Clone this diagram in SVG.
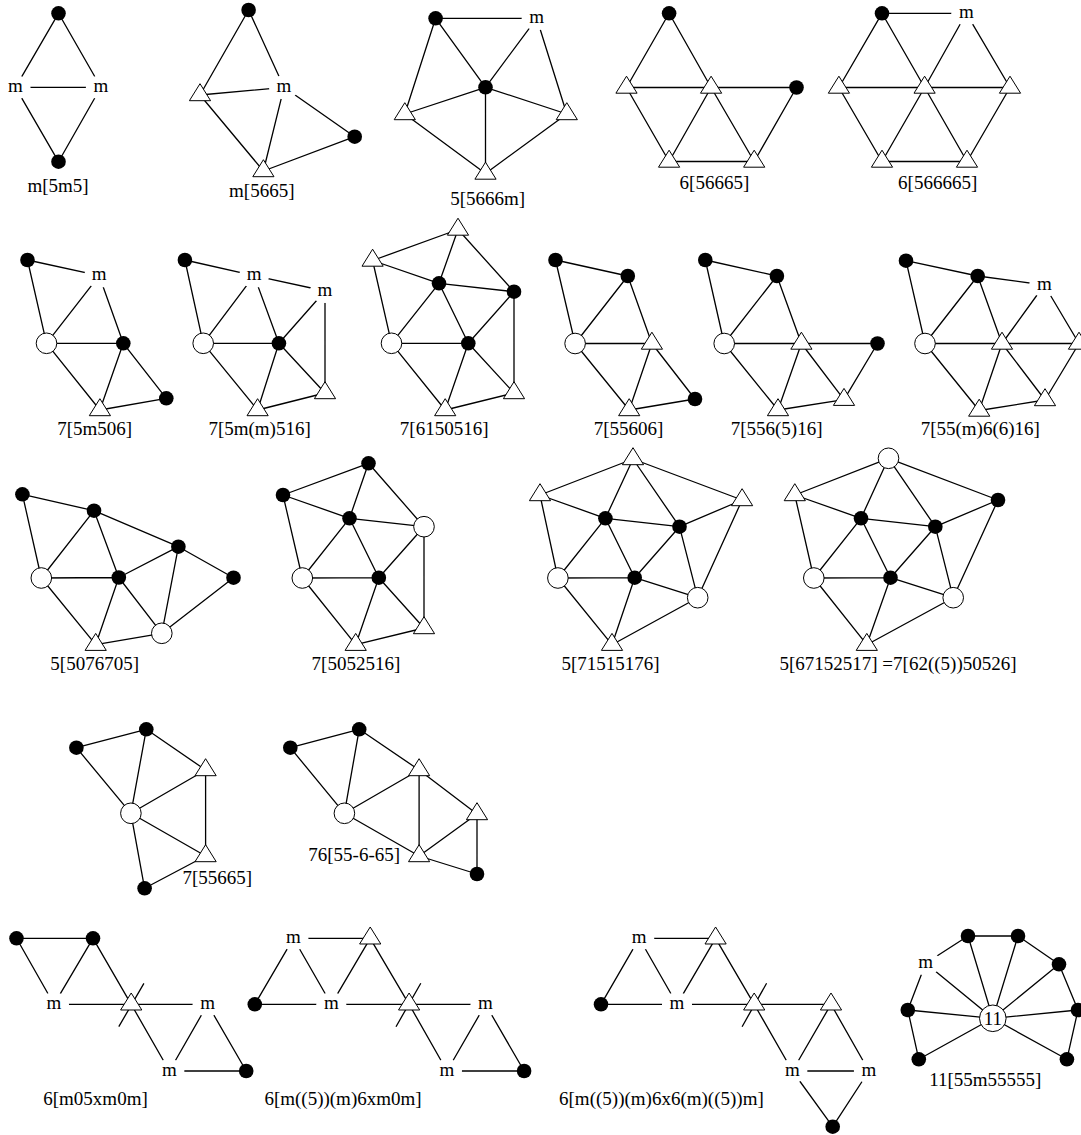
<svg xmlns="http://www.w3.org/2000/svg" xmlns:xlink="http://www.w3.org/1999/xlink" width="1081" height="1135" viewBox="0 0 1081 1135">
<style>
.e path{stroke:#000;stroke-width:1.3;fill:none}
text{font-family:"Liberation Serif","Times New Roman",serif;font-size:19px;fill:#000;text-anchor:middle}
</style>
<defs>
<circle id="fc" r="7.3" fill="#000"/>
<circle id="oc" r="10.3" fill="#fff" stroke="#000" stroke-width="1"/>
<polygon id="tri" points="0,-11.3 10.6,5.7 -10.6,5.7" fill="#fff" stroke="#000" stroke-width="1"/>
<ellipse id="mk" rx="15" ry="12" fill="#fff"/>
</defs>
<rect width="1081" height="1135" fill="#fff"/>
<g id="connectors" class="e">
<!-- f1 -->
<path d="M58.5 13.3L15.5 87.3M58.5 13.3L100.9 87.3M15.5 87.3L100.9 87.3M15.5 87.3L58.5 161.7M100.9 87.3L58.5 161.7"/>
<!-- f2 -->
<path d="M248.6 10L200 95M248.6 10L284 87.3M200 95L284 87.3M200 95L263.4 171M284 87.3L263.4 171M284 87.3L354.7 136.7M263.4 171L354.7 136.7"/>
<!-- f3 -->
<path d="M435.6 18.3L536.7 18.3M435.6 18.3L485.5 87.3M435.6 18.3L404.8 114M536.7 18.3L485.5 87.3M536.7 18.3L566.8 114M485.5 87.3L404.8 114M485.5 87.3L485.5 173.5M485.5 87.3L566.8 114M404.8 114L485.5 173.5M485.5 173.5L566.8 114"/>
<!-- f4 -->
<path d="M669.1 13.3L626.5 87.5M669.1 13.3L711.1 87.5M626.5 87.5L711.1 87.5M711.1 87.5L796.5 87.5M626.5 87.5L669.1 161.5M711.1 87.5L669.1 161.5M711.1 87.5L754.2 161.5M669.1 161.5L754.2 161.5M754.2 161.5L796.5 87.5"/>
<!-- f5 -->
<path d="M882 13.3L966.3 13.3M882 13.3L838.9 87.5M882 13.3L924.6 87.5M966.3 13.3L924.6 87.5M966.3 13.3L1010 87.5M838.9 87.5L924.6 87.5M924.6 87.5L1010 87.5M838.9 87.5L882 161.5M924.6 87.5L882 161.5M924.6 87.5L967 161.5M1010 87.5L967 161.5M882 161.5L967 161.5"/>
<!-- f6 -->
<path d="M27.5 260L99.2 275.7M27.5 260L46.5 343.3M99.2 275.7L46.5 343.3M99.2 275.7L123.3 343.3M46.5 343.3L123.3 343.3M46.5 343.3L99.9 410M123.3 343.3L99.9 410M123.3 343.3L166.3 398.3M99.9 410L166.3 398.3"/>
<!-- f7 -->
<path d="M184.9 260L254.1 275.7M184.9 260L203.2 343.3M254.1 275.7L325 291M254.1 275.7L203.2 343.3M254.1 275.7L278.9 343.3M325 291L278.9 343.3M325 291L325 393M203.2 343.3L278.9 343.3M203.2 343.3L257.6 410M278.9 343.3L257.6 410M278.9 343.3L325 393M257.6 410L325 393"/>
<!-- f8 -->
<path d="M458 229.5L372.6 260.5M458 229.5L439 283.3M458 229.5L514 291.7M372.6 260.5L439 283.3M372.6 260.5L391.5 343.3M439 283.3L514 291.7M439 283.3L391.5 343.3M439 283.3L468.3 343.3M514 291.7L468.3 343.3M514 291.7L514 393M391.5 343.3L468.3 343.3M391.5 343.3L445.2 410M468.3 343.3L445.2 410M468.3 343.3L514 393M445.2 410L514 393"/>
<!-- f9 -->
<path d="M555.5 260L627.8 276M555.5 260L575.1 343.5M627.8 276L575.1 343.5M627.8 276L651.9 343.5M575.1 343.5L651.9 343.5M575.1 343.5L629.2 410M651.9 343.5L629.2 410M651.9 343.5L695 399M629.2 410L695 399"/>
<!-- f10 -->
<path d="M705.3 260L776.9 276M705.3 260L724.2 343.5M776.9 276L724.2 343.5M776.9 276L801.4 343.5M724.2 343.5L801.4 343.5M801.4 343.5L877.5 343.5M724.2 343.5L778 410M801.4 343.5L778 410M801.4 343.5L844 399.7M778 410L844 399.7M844 399.7L877.5 343.5"/>
<!-- f11 -->
<path d="M906 260.7L977.7 276M906 260.7L925 343.5M977.7 276L1044.3 285M977.7 276L925 343.5M977.7 276L1002 343.5M1044.3 285L1002 343.5M1044.3 285L1079 343.5M925 343.5L1002 343.5M1002 343.5L1079 343.5M925 343.5L979.2 410.5M1002 343.5L979.2 410.5M1002 343.5L1045 400M979.2 410.5L1045 400M1045 400L1079 343.5"/>
<!-- f12 -->
<path d="M22.4 494.3L94 510.7M22.4 494.3L41.3 578M94 510.7L178.4 546.7M94 510.7L41.3 578M94 510.7L118.8 577.5M178.4 546.7L118.8 577.5M178.4 546.7L233.5 577.7M178.4 546.7L161.8 633.3M41.3 578L118.8 577.5M41.3 578L95.7 644.7M118.8 577.5L95.7 644.7M118.8 577.5L161.8 633.3M95.7 644.7L161.8 633.3M161.8 633.3L233.5 577.7"/>
<!-- f13 -->
<path d="M368.5 463.3L283 495M368.5 463.3L349.5 518.3M368.5 463.3L424 526.7M283 495L349.5 518.3M283 495L302.3 578M349.5 518.3L424 526.7M349.5 518.3L302.3 578M349.5 518.3L378.8 577.7M424 526.7L378.8 577.7M424 526.7L424 628M302.3 578L378.8 577.7M302.3 578L355.7 644.7M378.8 577.7L355.7 644.7M378.8 577.7L424 628M355.7 644.7L424 628"/>
<!-- f14 -->
<path d="M633 459L540 495M633 459L605.4 518.3M633 459L679.5 526.7M633 459L742.1 500M540 495L605.4 518.3M540 495L557.9 578M605.4 518.3L679.5 526.7M605.4 518.3L557.9 578M605.4 518.3L634.7 577.7M679.5 526.7L742.1 500M679.5 526.7L634.7 577.7M679.5 526.7L697.7 597.7M742.1 500L697.7 597.7M557.9 578L634.7 577.7M557.9 578L612 644.7M634.7 577.7L612 644.7M634.7 577.7L697.7 597.7M612 644.7L697.7 597.7"/>
<!-- f15 -->
<path d="M888.5 458.3L794.8 495M888.5 458.3L861 518.3M888.5 458.3L935.3 526.7M888.5 458.3L998 500M794.8 495L861 518.3M794.8 495L813.8 578M861 518.3L935.3 526.7M861 518.3L813.8 578M861 518.3L890.5 577.7M935.3 526.7L998 500M935.3 526.7L890.5 577.7M935.3 526.7L953.2 597.7M998 500L953.2 597.7M813.8 578L890.5 577.7M813.8 578L866.8 644.7M890.5 577.7L866.8 644.7M890.5 577.7L953.2 597.7M866.8 644.7L953.2 597.7"/>
<!-- f16 -->
<path d="M76.4 747.7L146.3 729.3M76.4 747.7L130.9 813.3M146.3 729.3L130.9 813.3M146.3 729.3L205.6 770M205.6 770L130.9 813.3M205.6 770L205.6 856M130.9 813.3L205.6 856M130.9 813.3L144.6 888.3M205.6 856L144.6 888.3"/>
<!-- f17 -->
<path d="M290.3 747.7L359.2 729.3M290.3 747.7L344.4 813.3M359.2 729.3L344.4 813.3M359.2 729.3L419.1 770M419.1 770L344.4 813.3M419.1 770L419.1 856M419.1 770L477 814M344.4 813.3L419.1 856M477 814L419.1 856M477 814L477 874M419.1 856L477 874"/>
<!-- f18 -->
<path d="M16.5 938.3L93 938.3M16.5 938.3L54 1004.3M93 938.3L54 1004.3M93 938.3L131.2 1004.3M131.2 1004.3L169.4 1071M54 1004.3L131.2 1004.3M131.2 1004.3L207.6 1004.3M207.6 1004.3L169.4 1071M207.6 1004.3L246.2 1071M169.4 1071L246.2 1071M118.8 1026.7L143.9 983.3"/>
<!-- f19 -->
<path d="M293.4 938.3L370.2 938.3M293.4 938.3L254.8 1004.3M293.4 938.3L331.3 1004.3M254.8 1004.3L331.3 1004.3M331.3 1004.3L370.2 938.3M370.2 938.3L409.1 1004.3M409.1 1004.3L447 1071M331.3 1004.3L409.1 1004.3M409.1 1004.3L485.5 1004.3M485.5 1004.3L447 1071M485.5 1004.3L524.1 1071M447 1071L524.1 1071M396 1026.7L420.8 983.3"/>
<!-- f20 -->
<path d="M639.2 938.3L715.6 938.3M639.2 938.3L601 1004.3M639.2 938.3L677 1004.3M601 1004.3L677 1004.3M677 1004.3L715.6 938.3M715.6 938.3L754.2 1004.3M754.2 1004.3L792.4 1071M677 1004.3L754.2 1004.3M754.2 1004.3L831 1004.3M831 1004.3L792.4 1071M831 1004.3L868.9 1071M792.4 1071L868.9 1071M792.4 1071L832.7 1126.7M868.9 1071L832.7 1126.7M742.1 1026.7L766.6 983.3"/>
<!-- f21 -->
<path d="M925.7 963.3L968 936M968 936L1018 936M1018 936L1059 964.3M1059 964.3L1078 1010M1078 1010L1066.9 1059.3M925.7 963.3L907.8 1010M907.8 1010L918.8 1059.3M992.8 1018.3L968 936M992.8 1018.3L1018 936M992.8 1018.3L1059 964.3M992.8 1018.3L1078 1010M992.8 1018.3L1066.9 1059.3M992.8 1018.3L918.8 1059.3M992.8 1018.3L907.8 1010M992.8 1018.3L925.7 963.3"/>
</g>

<g id="fig-m5m5">
<g id="f1-a"><use href="#fc" x="58.5" y="13.3"/></g>
<g id="f1-ml"><use href="#mk" x="15.5" y="87.3"/><text x="15.5" y="91.8">m</text></g>
<g id="f1-mr"><use href="#mk" x="100.9" y="87.3"/><text x="100.9" y="91.8">m</text></g>
<g id="f1-b"><use href="#fc" x="58.5" y="161.7"/></g>
<text x="58" y="192">m[5m5]</text>
</g>

<g id="fig-m5665">
<g id="f2-t"><use href="#fc" x="248.6" y="10"/></g>
<g id="f2-l"><use href="#tri" x="200" y="95"/></g>
<g id="f2-m"><use href="#mk" x="284" y="87.3"/><text x="284" y="91.8">m</text></g>
<g id="f2-r"><use href="#fc" x="354.7" y="136.7"/></g>
<g id="f2-b"><use href="#tri" x="263.4" y="171"/></g>
<text x="261.8" y="197">m[5665]</text>
</g>

<g id="fig-5-5666m">
<g id="f3-tl"><use href="#fc" x="435.6" y="18.3"/></g>
<g id="f3-m"><use href="#mk" x="536.7" y="18.3"/><text x="536.7" y="22.8">m</text></g>
<g id="f3-c"><use href="#fc" x="485.5" y="87.3"/></g>
<g id="f3-l"><use href="#tri" x="404.8" y="114"/></g>
<g id="f3-b"><use href="#tri" x="485.5" y="173.5"/></g>
<g id="f3-r"><use href="#tri" x="566.8" y="114"/></g>
<text x="487.6" y="205">5[5666m]</text>
</g>

<g id="fig-6-56665">
<g id="f4-t"><use href="#fc" x="669.1" y="13.3"/></g>
<g id="f4-l"><use href="#tri" x="626.5" y="87.5"/></g>
<g id="f4-m"><use href="#tri" x="711.1" y="87.5"/></g>
<g id="f4-r"><use href="#fc" x="796.5" y="87.5"/></g>
<g id="f4-bl"><use href="#tri" x="669.1" y="161.5"/></g>
<g id="f4-br"><use href="#tri" x="754.2" y="161.5"/></g>
<text x="714.4" y="189">6[56665]</text>
</g>

<g id="fig-6-566665">
<g id="f5-t"><use href="#fc" x="882" y="13.3"/></g>
<g id="f5-m"><use href="#mk" x="966.3" y="13.3"/><text x="966.3" y="17.8">m</text></g>
<g id="f5-l"><use href="#tri" x="838.9" y="87.5"/></g>
<g id="f5-c"><use href="#tri" x="924.6" y="87.5"/></g>
<g id="f5-r"><use href="#tri" x="1010" y="87.5"/></g>
<g id="f5-bl"><use href="#tri" x="882" y="161.5"/></g>
<g id="f5-br"><use href="#tri" x="967" y="161.5"/></g>
<text x="937.7" y="189">6[566665]</text>
</g>

<g id="fig-7-5m506">
<g id="f6-tl"><use href="#fc" x="27.5" y="260"/></g>
<g id="f6-m"><use href="#mk" x="99.2" y="275.7"/><text x="99.2" y="280.2">m</text></g>
<g id="f6-o"><use href="#oc" x="46.5" y="343.3"/></g>
<g id="f6-f"><use href="#fc" x="123.3" y="343.3"/></g>
<g id="f6-b"><use href="#tri" x="99.9" y="410"/></g>
<g id="f6-br"><use href="#fc" x="166.3" y="398.3"/></g>
<text x="94.7" y="435">7[5m506]</text>
</g>

<g id="fig-7-5mm516">
<g id="f7-tl"><use href="#fc" x="184.9" y="260"/></g>
<g id="f7-m1"><use href="#mk" x="254.1" y="275.7"/><text x="254.1" y="280.2">m</text></g>
<g id="f7-m2"><use href="#mk" x="325" y="291"/><text x="325" y="295.5">m</text></g>
<g id="f7-o"><use href="#oc" x="203.2" y="343.3"/></g>
<g id="f7-f"><use href="#fc" x="278.9" y="343.3"/></g>
<g id="f7-b"><use href="#tri" x="257.6" y="410"/></g>
<g id="f7-r"><use href="#tri" x="325" y="393"/></g>
<text x="259.6" y="435">7[5m(m)516]</text>
</g>

<g id="fig-7-6150516">
<g id="f8-t"><use href="#tri" x="458" y="229.5"/></g>
<g id="f8-l"><use href="#tri" x="372.6" y="260.5"/></g>
<g id="f8-c1"><use href="#fc" x="439" y="283.3"/></g>
<g id="f8-c2"><use href="#fc" x="514" y="291.7"/></g>
<g id="f8-o"><use href="#oc" x="391.5" y="343.3"/></g>
<g id="f8-c3"><use href="#fc" x="468.3" y="343.3"/></g>
<g id="f8-b"><use href="#tri" x="445.2" y="410"/></g>
<g id="f8-r"><use href="#tri" x="514" y="393"/></g>
<text x="444.2" y="435">7[6150516]</text>
</g>

<g id="fig-7-55606">
<g id="f9-tl"><use href="#fc" x="555.5" y="260"/></g>
<g id="f9-f"><use href="#fc" x="627.8" y="276"/></g>
<g id="f9-o"><use href="#oc" x="575.1" y="343.5"/></g>
<g id="f9-r"><use href="#tri" x="651.9" y="343.5"/></g>
<g id="f9-b"><use href="#tri" x="629.2" y="410"/></g>
<g id="f9-br"><use href="#fc" x="695" y="399"/></g>
<text x="628.5" y="435">7[55606]</text>
</g>

<g id="fig-7-556-5-16">
<g id="f10-tl"><use href="#fc" x="705.3" y="260"/></g>
<g id="f10-f"><use href="#fc" x="776.9" y="276"/></g>
<g id="f10-o"><use href="#oc" x="724.2" y="343.5"/></g>
<g id="f10-m"><use href="#tri" x="801.4" y="343.5"/></g>
<g id="f10-fr"><use href="#fc" x="877.5" y="343.5"/></g>
<g id="f10-b"><use href="#tri" x="778" y="410"/></g>
<g id="f10-br"><use href="#tri" x="844" y="399.7"/></g>
<text x="776.6" y="435">7[556(5)16]</text>
</g>

<g id="fig-7-55m6616">
<g id="f11-tl"><use href="#fc" x="906" y="260.7"/></g>
<g id="f11-f"><use href="#fc" x="977.7" y="276"/></g>
<g id="f11-m"><use href="#mk" x="1044.3" y="285"/><text x="1044.3" y="289.5">m</text></g>
<g id="f11-o"><use href="#oc" x="925" y="343.5"/></g>
<g id="f11-c"><use href="#tri" x="1002" y="343.5"/></g>
<g id="f11-r"><use href="#tri" x="1079" y="343.5"/></g>
<g id="f11-b"><use href="#tri" x="979.2" y="410.5"/></g>
<g id="f11-br"><use href="#tri" x="1045" y="400"/></g>
<text x="980.3" y="435">7[55(m)6(6)16]</text>
</g>

<g id="fig-5-5076705">
<g id="f12-tl"><use href="#fc" x="22.4" y="494.3"/></g>
<g id="f12-c1"><use href="#fc" x="94" y="510.7"/></g>
<g id="f12-c2"><use href="#fc" x="178.4" y="546.7"/></g>
<g id="f12-ol"><use href="#oc" x="41.3" y="578"/></g>
<g id="f12-c3"><use href="#fc" x="118.8" y="577.5"/></g>
<g id="f12-fr"><use href="#fc" x="233.5" y="577.7"/></g>
<g id="f12-b"><use href="#tri" x="95.7" y="644.7"/></g>
<g id="f12-ob"><use href="#oc" x="161.8" y="633.3"/></g>
<text x="94.7" y="670">5[5076705]</text>
</g>

<g id="fig-7-5052516">
<g id="f13-t"><use href="#fc" x="368.5" y="463.3"/></g>
<g id="f13-tl"><use href="#fc" x="283" y="495"/></g>
<g id="f13-c1"><use href="#fc" x="349.5" y="518.3"/></g>
<g id="f13-or"><use href="#oc" x="424" y="526.7"/></g>
<g id="f13-ol"><use href="#oc" x="302.3" y="578"/></g>
<g id="f13-c2"><use href="#fc" x="378.8" y="577.7"/></g>
<g id="f13-b"><use href="#tri" x="355.7" y="644.7"/></g>
<g id="f13-r"><use href="#tri" x="424" y="628"/></g>
<text x="355.9" y="670">7[5052516]</text>
</g>

<g id="fig-5-71515176">
<g id="f14-t"><use href="#tri" x="633" y="459"/></g>
<g id="f14-l"><use href="#tri" x="540" y="495"/></g>
<g id="f14-r"><use href="#tri" x="742.1" y="500"/></g>
<g id="f14-c1"><use href="#fc" x="605.4" y="518.3"/></g>
<g id="f14-c2"><use href="#fc" x="679.5" y="526.7"/></g>
<g id="f14-ol"><use href="#oc" x="557.9" y="578"/></g>
<g id="f14-c3"><use href="#fc" x="634.7" y="577.7"/></g>
<g id="f14-or"><use href="#oc" x="697.7" y="597.7"/></g>
<g id="f14-b"><use href="#tri" x="612" y="644.7"/></g>
<text x="610.6" y="670">5[71515176]</text>
</g>

<g id="fig-5-67152517">
<g id="f15-t"><use href="#oc" x="888.5" y="458.3"/></g>
<g id="f15-l"><use href="#tri" x="794.8" y="495"/></g>
<g id="f15-fr"><use href="#fc" x="998" y="500"/></g>
<g id="f15-c1"><use href="#fc" x="861" y="518.3"/></g>
<g id="f15-c2"><use href="#fc" x="935.3" y="526.7"/></g>
<g id="f15-ol"><use href="#oc" x="813.8" y="578"/></g>
<g id="f15-c3"><use href="#fc" x="890.5" y="577.7"/></g>
<g id="f15-or"><use href="#oc" x="953.2" y="597.7"/></g>
<g id="f15-b"><use href="#tri" x="866.8" y="644.7"/></g>
<text x="898" y="670">5[67152517] =7[62((5))50526]</text>
</g>

<g id="fig-7-55665">
<g id="f16-tl"><use href="#fc" x="76.4" y="747.7"/></g>
<g id="f16-t"><use href="#fc" x="146.3" y="729.3"/></g>
<g id="f16-r1"><use href="#tri" x="205.6" y="770"/></g>
<g id="f16-o"><use href="#oc" x="130.9" y="813.3"/></g>
<g id="f16-r2"><use href="#tri" x="205.6" y="856"/></g>
<g id="f16-b"><use href="#fc" x="144.6" y="888.3"/></g>
<text x="217.3" y="884">7[55665]</text>
</g>

<g id="fig-76-55-6-65">
<g id="f17-tl"><use href="#fc" x="290.3" y="747.7"/></g>
<g id="f17-t"><use href="#fc" x="359.2" y="729.3"/></g>
<g id="f17-tt"><use href="#tri" x="419.1" y="770"/></g>
<g id="f17-o"><use href="#oc" x="344.4" y="813.3"/></g>
<g id="f17-r"><use href="#tri" x="477" y="814"/></g>
<g id="f17-tb"><use href="#tri" x="419.1" y="856"/></g>
<g id="f17-br"><use href="#fc" x="477" y="874"/></g>
<text x="354.2" y="861">76[55-6-65]</text>
</g>

<g id="fig-6-m05xm0m">
<g id="f18-c1"><use href="#fc" x="16.5" y="938.3"/></g>
<g id="f18-c2"><use href="#fc" x="93" y="938.3"/></g>
<g id="f18-m1"><use href="#mk" x="54" y="1004.3"/><text x="54" y="1008.8">m</text></g>
<g id="f18-x"><use href="#tri" x="131.2" y="1004.3"/></g>
<g id="f18-m2"><use href="#mk" x="207.6" y="1004.3"/><text x="207.6" y="1008.8">m</text></g>
<g id="f18-m3"><use href="#mk" x="169.4" y="1071"/><text x="169.4" y="1075.5">m</text></g>
<g id="f18-c3"><use href="#fc" x="246.2" y="1071"/></g>
<text x="95.5" y="1105">6[m05xm0m]</text>
</g>

<g id="fig-6-m5m6xm0m">
<g id="f19-m1"><use href="#mk" x="293.4" y="938.3"/><text x="293.4" y="942.8">m</text></g>
<g id="f19-tt"><use href="#tri" x="370.2" y="938.3"/></g>
<g id="f19-c"><use href="#fc" x="254.8" y="1004.3"/></g>
<g id="f19-m2"><use href="#mk" x="331.3" y="1004.3"/><text x="331.3" y="1008.8">m</text></g>
<g id="f19-x"><use href="#tri" x="409.1" y="1004.3"/></g>
<g id="f19-m3"><use href="#mk" x="485.5" y="1004.3"/><text x="485.5" y="1008.8">m</text></g>
<g id="f19-m4"><use href="#mk" x="447" y="1071"/><text x="447" y="1075.5">m</text></g>
<g id="f19-c2"><use href="#fc" x="524.1" y="1071"/></g>
<text x="343" y="1105">6[m((5))(m)6xm0m]</text>
</g>

<g id="fig-6-m5m6x6m5m">
<g id="f20-m1"><use href="#mk" x="639.2" y="938.3"/><text x="639.2" y="942.8">m</text></g>
<g id="f20-tt"><use href="#tri" x="715.6" y="938.3"/></g>
<g id="f20-c"><use href="#fc" x="601" y="1004.3"/></g>
<g id="f20-m2"><use href="#mk" x="677" y="1004.3"/><text x="677" y="1008.8">m</text></g>
<g id="f20-x"><use href="#tri" x="754.2" y="1004.3"/></g>
<g id="f20-r"><use href="#tri" x="831" y="1004.3"/></g>
<g id="f20-m3"><use href="#mk" x="792.4" y="1071"/><text x="792.4" y="1075.5">m</text></g>
<g id="f20-m4"><use href="#mk" x="868.9" y="1071"/><text x="868.9" y="1075.5">m</text></g>
<g id="f20-cb"><use href="#fc" x="832.7" y="1126.7"/></g>
<text x="661.4" y="1105">6[m((5))(m)6x6(m)((5))m]</text>
</g>

<g id="fig-11-55m55555">
<g id="f21-c1"><use href="#fc" x="968" y="936"/></g>
<g id="f21-c2"><use href="#fc" x="1018" y="936"/></g>
<g id="f21-c3"><use href="#fc" x="1059" y="964.3"/></g>
<g id="f21-c4"><use href="#fc" x="1078" y="1010"/></g>
<g id="f21-c5"><use href="#fc" x="1066.9" y="1059.3"/></g>
<g id="f21-c6"><use href="#fc" x="918.8" y="1059.3"/></g>
<g id="f21-c7"><use href="#fc" x="907.8" y="1010"/></g>
<g id="f21-m"><use href="#mk" x="925.7" y="963.3"/><text x="925.7" y="967.8">m</text></g>
<g id="f21-hub"><circle cx="992.8" cy="1018.3" r="13.3" fill="#fff" stroke="#000" stroke-width="1"/><text x="992.8" y="1024.8">11</text></g>
<text x="985.3" y="1086">11[55m55555]</text>
</g>
</svg>
